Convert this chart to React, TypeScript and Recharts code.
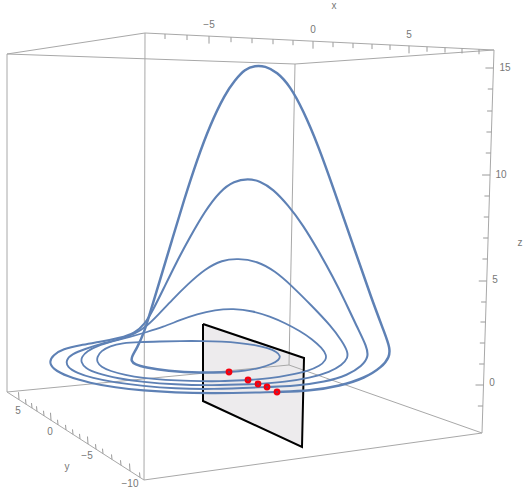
import { Area, ComposedChart, Line, ReferenceDot, ReferenceLine, Scatter, XAxis, YAxis } from 'recharts';

type Pair = [number, number];

const WIDTH = 531;
const HEIGHT = 491;

// Projected position of the orbit, one lap between two section crossings
const lapOne: Pair[] = [
  [229, 372], [245, 371], [260, 368], [272, 364], [279, 360], [280.5, 356], [277, 352], [268, 348],
  [255, 345], [240, 343], [222, 341.5], [203, 341], [180, 341], [160, 341.5], [140, 342], [122, 343],
  [110, 346], [101, 351], [97, 357], [97, 362], [101, 367], [110, 371], [125, 375], [143, 378],
  [165, 380], [190, 381], [220, 381.5], [248, 380],
];
const lapTwo: Pair[] = [
  [248, 380], [270, 378.5], [290, 375], [308, 371], [320, 366], [326, 360], [326.5, 355], [322, 348],
  [312, 339], [300, 331], [285, 323], [270, 316.5], [253, 311], [233, 308.5], [215, 310], [197, 314],
  [180, 320], [163, 327], [147, 332], [130, 337], [112, 341.5], [97, 346], [87, 351], [81.5, 357],
  [81, 362], [85, 368], [97, 373.5], [118, 378.5], [143, 382], [175, 384.5], [210, 385.5], [258, 384],
];
const lapThree: Pair[] = [
  [258, 384], [285, 382], [310, 378], [330, 372], [342, 365], [348, 358], [347.5, 351], [342, 341],
  [331, 326], [312, 306], [292, 286], [275, 271], [257, 261], [238, 258.5], [222, 260], [205, 269],
  [188, 284], [172, 300], [158, 315], [147, 326], [135, 334], [118, 340], [100, 344], [85, 349],
  [72, 354], [66, 360], [67, 367], [77, 373], [92, 378], [115, 382.5], [143, 386], [175, 388.5],
  [210, 389.5], [267, 387],
];
const lapFour: Pair[] = [
  [267, 387], [295, 386], [325, 382], [348, 375], [362, 366], [368.5, 357], [367, 347], [357, 327],
  [345, 301], [333, 277], [318, 250], [303, 225], [288, 205], [273, 189], [260, 181], [248, 178.5],
  [234, 181], [220, 191], [205, 211], [190, 237], [176, 263], [163, 290], [153, 310], [145, 324],
  [135, 333], [120, 338], [100, 342], [80, 345], [63, 349], [53, 355], [49, 362], [53, 369],
  [67, 376.5], [90, 383], [115, 387.5], [143, 390.5], [175, 392.5], [210, 393.5], [277, 392],
];
const lapFive: Pair[] = [
  [277, 392], [310, 391], [340, 386], [365, 378], [382, 367], [389.5, 357], [390, 348], [385, 334],
  [372, 300], [353, 245], [334, 190], [318, 145], [303, 110], [290, 86], [277, 72], [265, 66],
  [255, 65.5], [245, 69], [235, 80], [225, 94], [210, 125], [197, 160], [184, 200], [172, 240],
  [160, 280], [150, 313], [144, 333], [137, 348], [132, 356], [131, 361], [135, 364.5], [145, 367.5],
  [167, 371], [200, 373], [229, 372],
];

const crossings: Pair[] = [[229, 372], [248, 380], [258, 384], [267, 387], [277, 392]];

// The section plane
const planeOutline: Pair[] = [[203, 324], [304, 358], [302, 447], [203, 401], [203, 324]];
const planeFill = [
  { x: 203, span: [401, 324] },
  { x: 303, span: [447, 358] },
];

// Box corners
const boxEdges: [Pair, Pair][] = [
  [[7, 54], [145, 33]], [[145, 33], [494, 50]], [[494, 50], [295, 64]], [[295, 64], [7, 54]],
  [[7, 392], [144, 480]], [[144, 480], [482, 433]], [[482, 433], [289, 365]], [[289, 365], [7, 392]],
  [[7, 54], [7, 392]], [[145, 33], [144, 480]], [[494, 50], [482, 433]], [[295, 64], [289, 365]],
];

const xTicks = [165, 187, 209, 231, 252, 273, 293, 313, 333, 353, 372, 390, 409, 427, 445, 462, 479];
const xMajor = [209, 313, 409];
const yTicks = [19, 26, 32, 37, 44, 51, 58, 66, 73, 80, 88, 96, 103, 112, 121, 130, 140];
const yMajor = [19, 51, 88, 130];
const zTicks = [68, 89, 111, 132, 153, 175, 196, 217, 238, 259, 281, 302, 322, 343, 364, 385, 406];
const zMajor = [68, 175, 281, 385];

const axisLabels: { text: string; at: Pair }[] = [
  { text: 'x', at: [334, 5] },
  { text: '\u22125', at: [209, 24] },
  { text: '0', at: [313, 29] },
  { text: '5', at: [409, 34] },
  { text: 'y', at: [67, 466] },
  { text: '5', at: [18, 410] },
  { text: '0', at: [50, 431] },
  { text: '\u22125', at: [87, 455] },
  { text: '\u221210', at: [130, 483] },
  { text: 'z', at: [520, 242] },
  { text: '15', at: [505, 67] },
  { text: '10', at: [501, 174] },
  { text: '5', at: [495, 279] },
  { text: '0', at: [492, 382] },
];

const toRows = (points: Pair[]) => points.map(([x, y]) => ({ x, y }));

const tickSegments: [Pair, Pair][] = [
  ...xTicks.map((x): [Pair, Pair] => {
    const y = 33 + ((x - 145) * 17) / 349;
    return [[x, y], [x, y + (xMajor.includes(x) ? 7.5 : 5)]];
  }),
  ...yTicks.map((x): [Pair, Pair] => {
    const y = 392 + ((x - 7) * 88) / 137;
    return [[x, y], [x - 0.5, y - (yMajor.includes(x) ? 7.5 : 5)]];
  }),
  ...zTicks.map((y): [Pair, Pair] => {
    const x = 494 - ((y - 50) * 12) / 383;
    return [[x, y], [x - (zMajor.includes(y) ? 8 : 5), y]];
  }),
];

const laps: { points: Pair[]; width: number }[] = [
  { points: lapOne, width: 1.8 },
  { points: lapTwo, width: 1.8 },
  { points: lapThree, width: 1.9 },
  { points: lapFour, width: 2.1 },
  { points: lapFive, width: 2.5 },
];

// red marker with the orbit showing through its middle
function CrossingDot({ cx, cy }: { cx?: number; cy?: number }) {
  return (
    <g>
      <circle cx={cx} cy={cy} r={3.4} fill="#f5000f" />
      <circle cx={cx} cy={cy} r={1.1} fill="#7d3a63" />
    </g>
  );
}

export default function App() {
  return (
    <div style={{ position: 'absolute', left: 0, top: 0, fontFamily: '"Liberation Sans", sans-serif' }}>
      <ComposedChart width={WIDTH} height={HEIGHT} data={planeFill} margin={{ top: 0, right: 0, bottom: 0, left: 0 }}>
        <XAxis hide type="number" dataKey="x" domain={[0, WIDTH]} allowDataOverflow />
        <YAxis hide type="number" dataKey="y" domain={[0, HEIGHT]} reversed allowDataOverflow />
        {boxEdges.map(([a, b], i) => (
          <ReferenceLine
            key={`edge-${i}`}
            segment={[{ x: a[0], y: a[1] }, { x: b[0], y: b[1] }]}
            stroke="#a8a8a8"
            strokeWidth={1}
          />
        ))}
        {tickSegments.map(([a, b], i) => (
          <ReferenceLine
            key={`tick-${i}`}
            segment={[{ x: a[0], y: a[1] }, { x: b[0], y: b[1] }]}
            stroke="#9a9a9a"
            strokeWidth={1}
          />
        ))}
        <Area
          dataKey="span"
          type="linear"
          fill="#ebe8ea"
          fillOpacity={0.88}
          stroke="none"
          dot={false}
          activeDot={false}
          isAnimationActive={false}
        />
        <Line
          data={toRows(planeOutline)}
          dataKey="y"
          type="linear"
          stroke="#000000"
          strokeWidth={2}
          dot={false}
          activeDot={false}
          isAnimationActive={false}
        />
        {laps.map((lap, i) => (
          <Line
            key={`lap-${i}`}
            data={toRows(lap.points)}
            dataKey="y"
            type="basis"
            stroke="#5e81b5"
            strokeWidth={lap.width}
            dot={false}
            activeDot={false}
            isAnimationActive={false}
          />
        ))}
        <Scatter data={toRows(crossings)} shape={<CrossingDot />} isAnimationActive={false} />
        {axisLabels.map((l, i) => (
          <ReferenceDot
            key={`label-${i}`}
            x={l.at[0]}
            y={l.at[1]}
            r={0}
            fill="none"
            stroke="none"
            label={{ value: l.text, position: 'center', fontSize: 10, fill: '#777777' }}
          />
        ))}
      </ComposedChart>
    </div>
  );
}
